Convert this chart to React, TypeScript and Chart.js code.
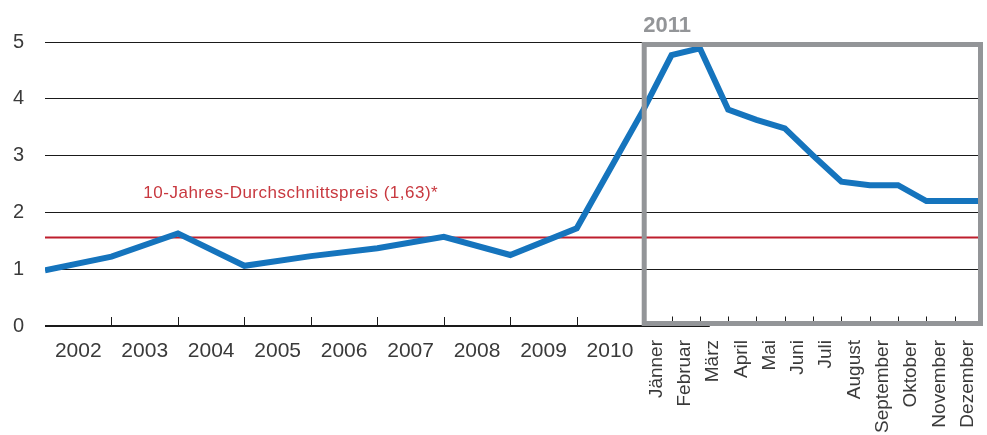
import React, { useEffect, useRef } from "react";
import { Chart, registerables } from "chart.js";

Chart.register(...registerables);

// Categories / tick labels
const YEARS = ["2002", "2003", "2004", "2005", "2006", "2007", "2008", "2009", "2010"];
const MONTHS = ["Jänner", "Februar", "März", "April", "Mai", "Juni", "Juli", "August", "September", "Oktober", "November", "Dezember"];
const Y_TICKS = [0, 1, 2, 3, 4, 5];

// Series values: at the year boundaries (start 2002 ... end 2010), then at the end of each month of 2011
const YEAR_VALUES = [0.98, 1.22, 1.63, 1.06, 1.23, 1.37, 1.57, 1.25, 1.72, 3.8];
const MONTH_VALUES = [4.77, 4.89, 3.81, 3.63, 3.48, 3.0, 2.54, 2.48, 2.48, 2.2, 2.2, 2.2];

// Average line
const AVG_VALUE = 1.56;
const AVG_LABEL = "10-Jahres-Durchschnittspreis (1,63)*";
const HIGHLIGHT_TITLE = "2011";

// width of a month relative to a year on the x axis
const MONTH_UNIT = 0.426;
const X_MAX = YEARS.length + MONTHS.length * MONTH_UNIT;

const FONT = "'Liberation Sans', Arial, Helvetica, sans-serif";
const BLUE = "#1574bd";
const RED = "#be1e2d";
const GRAY = "#939598";
const TEXT = "#3a3a3a";

export default function App() {
  const ref = useRef<HTMLCanvasElement>(null);

  useEffect(() => {
    document.body.style.margin = "0";
    const canvas = ref.current!;
    const linePoints = [
      ...YEAR_VALUES.map((v, i) => ({ x: i, y: v })),
      ...MONTH_VALUES.map((v, m) => ({ x: YEARS.length + (m + 1) * MONTH_UNIT, y: v })),
    ];

    const overlay = {
      id: "overlay",
      afterDatasetsDraw(chart: any) {
        const { ctx, chartArea } = chart;
        const xs = chart.scales.x;
        const ys = chart.scales.y;
        const y0 = ys.getPixelForValue(0);
        const xBox = xs.getPixelForValue(YEARS.length);
        ctx.save();

        // axis line
        ctx.strokeStyle = "#1a1a1a";
        ctx.lineWidth = 2;
        ctx.beginPath();
        ctx.moveTo(chartArea.left, y0);
        ctx.lineTo(xs.getPixelForValue(YEARS.length + 2.35 * MONTH_UNIT), y0);
        ctx.stroke();

        // year ticks
        ctx.lineWidth = 1;
        for (let i = 1; i < YEARS.length; i++) {
          const x = Math.round(xs.getPixelForValue(i)) + 0.5;
          ctx.beginPath();
          ctx.moveTo(x, y0 - 9);
          ctx.lineTo(x, y0);
          ctx.stroke();
        }
        // month ticks
        for (let m = 1; m < MONTHS.length; m++) {
          const x = Math.round(xs.getPixelForValue(YEARS.length + m * MONTH_UNIT)) + 0.5;
          ctx.beginPath();
          ctx.moveTo(x, y0 - 9.5);
          ctx.lineTo(x, y0 - 4.5);
          ctx.stroke();
        }

        // highlight box
        const L = xBox - 1.5;
        const R = chartArea.right;
        const T = ys.getPixelForValue(5);
        const B = y0;
        ctx.strokeStyle = GRAY;
        ctx.lineWidth = 5;
        ctx.strokeRect(L + 2.5, T + 2.5, R - L - 5, B - T - 5);

        // title 2011
        ctx.fillStyle = GRAY;
        ctx.font = `bold 22px ${FONT}`;
        ctx.textAlign = "left";
        ctx.textBaseline = "alphabetic";
        ctx.fillText(HIGHLIGHT_TITLE, xBox, chartArea.top - 10);

        // year labels
        ctx.fillStyle = TEXT;
        ctx.font = `21px ${FONT}`;
        ctx.textAlign = "center";
        YEARS.forEach((lab, i) => {
          ctx.fillText(lab, xs.getPixelForValue(i + 0.5), y0 + 31);
        });

        // month labels (rotated)
        ctx.font = `19px ${FONT}`;
        ctx.textAlign = "right";
        ctx.textBaseline = "middle";
        MONTHS.forEach((lab, m) => {
          const xc = xs.getPixelForValue(YEARS.length + (m + 0.5) * MONTH_UNIT);
          ctx.save();
          ctx.translate(xc - 1, y0 + 14);
          ctx.rotate(-Math.PI / 2);
          ctx.fillText(lab, 0, 0);
          ctx.restore();
        });

        // average label
        ctx.fillStyle = "#c8383f";
        ctx.font = `17px ${FONT}`;
        try { (ctx as any).letterSpacing = "0.5px"; } catch (e) {}
        ctx.textAlign = "left";
        ctx.textBaseline = "alphabetic";
        ctx.fillText(AVG_LABEL, xs.getPixelForValue(1.48), ys.getPixelForValue(AVG_VALUE) - 39);
        try { (ctx as any).letterSpacing = "0px"; } catch (e) {}

        ctx.restore();
      },
    };

    const chart = new Chart(canvas, {
      type: "line",
      data: {
        datasets: [
          {
            label: "Preis",
            data: linePoints,
            borderColor: BLUE,
            borderWidth: 6,
            pointRadius: 0,
            tension: 0,
            fill: false,
            borderJoinStyle: "miter",
            order: 0,
          },
          {
            label: "Durchschnitt",
            data: [
              { x: 0, y: AVG_VALUE },
              { x: X_MAX, y: AVG_VALUE },
            ],
            borderColor: RED,
            borderWidth: 2,
            pointRadius: 0,
            fill: false,
            order: 1,
          },
        ],
      },
      options: {
        responsive: false,
        animation: false,
        events: [],
        layout: { padding: { top: 42, right: 4, left: 0, bottom: 0 } },
        plugins: { legend: { display: false }, tooltip: { enabled: false }, title: { display: false } },
        scales: {
          x: {
            type: "linear",
            min: 0,
            max: X_MAX,
            ticks: { display: false },
            grid: { display: false },
            border: { display: false },
            afterFit: (s: any) => {
              s.height = 109;
            },
          },
          y: {
            min: 0,
            max: 5,
            afterBuildTicks: (s: any) => {
              s.ticks = Y_TICKS.map((v) => ({ value: v }));
            },
            ticks: {
              padding: 21,
              color: TEXT,
              font: { family: FONT, size: 20 },
            },
            grid: {
              color: (c: any) => (c.tick && c.tick.value === 0 ? "rgba(0,0,0,0)" : "#1a1a1a"),
              lineWidth: 1,
              drawTicks: false,
            },
            border: { display: false },
            afterFit: (s: any) => {
              s.width = 45;
            },
          },
        },
      },
      plugins: [overlay],
    });

    return () => chart.destroy();
  }, []);

  return (
    <div style={{ width: 987, height: 435 }}>
      <canvas ref={ref} width={987} height={435} style={{ display: "block" }} />
    </div>
  );
}
